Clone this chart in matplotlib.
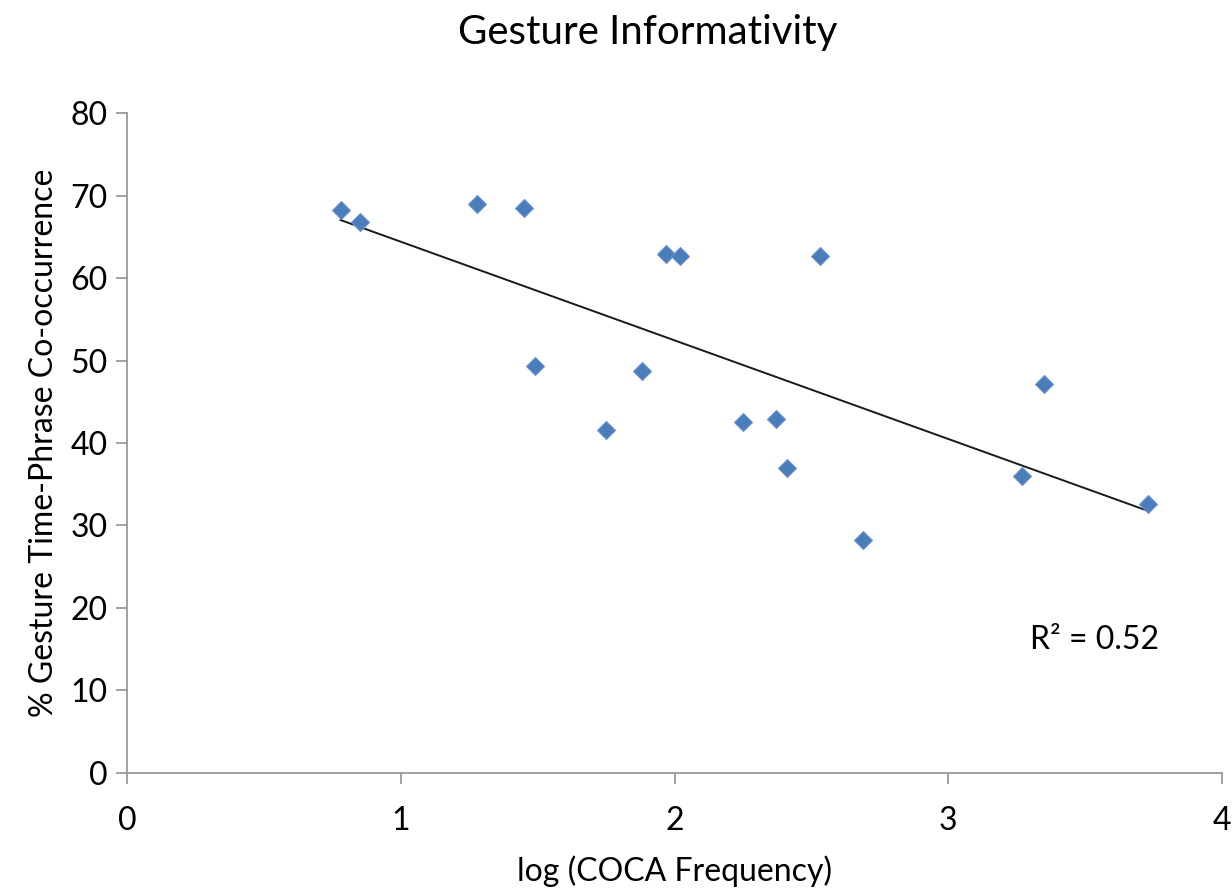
import numpy as np
import matplotlib
matplotlib.use("Agg")
import matplotlib.pyplot as plt

plt.rcParams['font.family'] = ['Lato', 'DejaVu Sans']

log_freq = [0.78, 0.85, 1.28, 1.45, 1.49, 1.75, 1.88, 1.97, 2.02, 2.25, 2.37, 2.41, 2.53, 2.69, 3.27, 3.35, 3.73]
pct_cooccur = [68.2, 66.8, 69.0, 68.5, 49.3, 41.6, 48.7, 62.9, 62.7, 42.5, 42.9, 37.0, 62.7, 28.2, 36.0, 47.2, 32.6]
x_ticks = [0, 1, 2, 3, 4]
y_ticks = [0, 10, 20, 30, 40, 50, 60, 70, 80]
r2_label = "R² = 0.52"

fig = plt.figure(figsize=(12.32, 8.9), dpi=100)
ax = fig.add_axes([0.1031, 0.1315, 0.8888, 0.7415])

x = np.array(log_freq)
y = np.array(pct_cooccur)
slope, intercept = np.polyfit(x, y, 1)
xl = np.array([x.min(), x.max()])
ax.plot(xl, slope * xl + intercept, color='#1a1a1a', lw=1.4, zorder=2)
ax.plot(x, y, linestyle='none', marker='D', ms=9.5, mfc='#4a7ebb', mec='#6f8fd0', mew=0.8, zorder=3)

ax.set_xlim(0, 4)
ax.set_ylim(0, 80)
ax.set_xticks(x_ticks)
ax.set_yticks(y_ticks)
for s in ['top', 'right']:
    ax.spines[s].set_visible(False)
for s in ['left', 'bottom']:
    ax.spines[s].set_color('#9a9a9a')
    ax.spines[s].set_linewidth(1.3)
ax.tick_params(axis='both', colors='#9a9a9a', length=8, width=1.3, labelsize=23, labelcolor='black')
ax.tick_params(axis='x', pad=16)
ax.tick_params(axis='y', pad=6)

ax.text(3.30, 16.1, r2_label, fontsize=23, va='center', ha='left')
ax.set_xlabel('log (COCA Frequency)', fontsize=23, labelpad=14)
ax.set_ylabel('% Gesture Time-Phrase Co-occurrence', fontsize=23, labelpad=8)
fig.text(0.526, 0.963, 'Gesture Informativity', fontsize=29, ha='center', va='center')

fig.savefig('out.png', dpi=100)
